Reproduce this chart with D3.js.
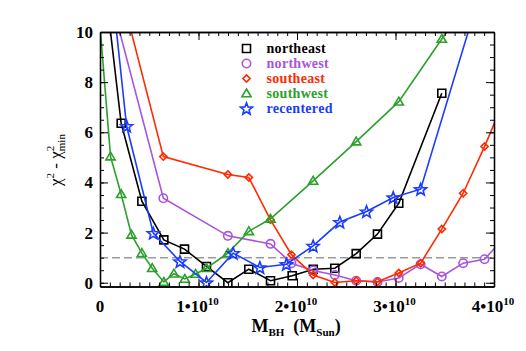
<!DOCTYPE html>
<html><head><meta charset="utf-8">
<script src="https://cdn.jsdelivr.net/npm/d3@7"></script>
<style>body{margin:0;background:#fff}svg{display:block}</style>
</head><body>
<script>
// Data (mass in units of 1e10 M_sun, delta chi^2)
const neMass = [0, 0.215, 0.425, 0.648, 0.858, 1.081, 1.298, 1.511, 1.731, 1.951, 2.165, 2.384, 2.601, 2.817, 3.033, 3.470];
const neChi  = [13.6, 6.36, 3.25, 1.71, 1.34, 0.65, 0.0, 0.54, 0.08, 0.28, 0.54, 0.58, 1.16, 1.94, 3.17, 7.56];
const nwMass = [0, 0.643, 1.298, 1.731, 1.944, 2.164, 2.384, 2.601, 2.817, 3.033, 3.255, 3.470, 3.687, 3.904, 4.12];
const nwChi  = [13.0, 3.37, 1.87, 1.55, 0.78, 0.49, 0.31, 0.08, 0.03, 0.19, 0.74, 0.25, 0.78, 0.94, 1.86];
const seMass = [0, 0.643, 1.298, 1.511, 1.731, 1.944, 2.164, 2.384, 2.601, 2.817, 3.033, 3.255, 3.470, 3.687, 3.904, 4.12];
const seChi  = [14.85, 5.03, 4.32, 4.20, 2.51, 1.12, 0.31, 0.01, 0.08, 0.04, 0.39, 0.78, 2.14, 3.57, 5.43, 7.45];
const swMass = [0, 0.107, 0.215, 0.320, 0.425, 0.530, 0.648, 0.750, 0.861, 0.970, 1.081, 1.298, 1.511, 1.731, 2.164, 2.601, 3.033, 3.470, 3.687];
const swChi  = [10.25, 5.03, 3.53, 1.91, 1.18, 0.58, 0.03, 0.36, 0.15, 0.35, 0.58, 1.18, 2.05, 2.55, 4.06, 5.63, 7.22, 9.72, 10.96];
const rcMass = [0, 0.270, 0.541, 0.812, 1.081, 1.352, 1.623, 1.893, 2.164, 2.435, 2.706, 2.977, 3.255, 3.797];
const rcChi  = [16.2, 6.25, 1.98, 0.85, 0.01, 1.18, 0.61, 0.74, 1.47, 2.42, 2.84, 3.40, 3.73, 10.77];

const seriesNames = ["northeast", "northwest", "southeast", "southwest", "recentered"];
const seriesColors = ["#000000", "#a855dd", "#ff2a00", "#2ca02c", "#1a3cff"];
const seriesSymbols = ["square", "circle", "diamond", "triangle", "star"];
const xTickValues = [0, 1, 2, 3, 4];
const yTickValues = [0, 2, 4, 6, 8, 10];
const refLevel = 1;

const W = 526, H = 351;
const m = {l: 100, r: 494, t: 32, b: 286.5};
const x = d3.scaleLinear().domain([0, 4]).range([m.l, m.r]);
const y = d3.scaleLinear().domain([-0.15, 10]).range([m.b, m.t]);

const svg = d3.select("body").append("svg").attr("width", W).attr("height", H);
svg.append("defs").append("clipPath").attr("id", "clip")
  .append("rect").attr("x", m.l).attr("y", m.t).attr("width", m.r - m.l).attr("height", m.b - m.t);

const serif = "Liberation Serif, Times New Roman, serif";

// dashed reference line
svg.append("line").attr("x1", x(0)).attr("x2", x(4)).attr("y1", y(refLevel)).attr("y2", y(refLevel))
  .attr("stroke", "#9a9a9a").attr("stroke-width", 1.5).attr("stroke-dasharray", "8,4");

const series = [
  {mass: neMass, chi: neChi}, {mass: nwMass, chi: nwChi}, {mass: seMass, chi: seChi},
  {mass: swMass, chi: swChi}, {mass: rcMass, chi: rcChi}
];

function symbolPath(type) {
  if (type === "square") return "M-4,-4H4V4H-4Z";
  if (type === "circle") { const p = d3.path(); p.arc(0, 0, 4.2, 0, 2 * Math.PI); p.closePath(); return p.toString(); }
  if (type === "diamond") return "M0,-3.6L3.6,0L0,3.6L-3.6,0Z";
  if (type === "triangle") return "M0,-4.5L4.6,3.3L-4.6,3.3Z";
  // star
  const pts = [];
  for (let k = 0; k < 10; k++) {
    const r = k % 2 === 0 ? 6.3 : 2.7;
    const a = -Math.PI / 2 + k * Math.PI / 5;
    pts.push([r * Math.cos(a), r * Math.sin(a) + 0.6]);
  }
  return "M" + pts.map(p => p[0].toFixed(2) + "," + p[1].toFixed(2)).join("L") + "Z";
}

const plotG = svg.append("g").attr("clip-path", "url(#clip)");
const line = d3.line().x(d => x(d[0])).y(d => y(d[1]));
series.forEach((s, i) => {
  const pts = s.mass.map((mm, j) => [mm, s.chi[j]]);
  plotG.append("path").attr("d", line(pts)).attr("fill", "none")
    .attr("stroke", seriesColors[i]).attr("stroke-width", 1.6);
  plotG.selectAll(null).data(pts).enter().append("path")
    .attr("d", symbolPath(seriesSymbols[i]))
    .attr("transform", d => `translate(${x(d[0])},${y(d[1])})`)
    .attr("fill", "none").attr("stroke", seriesColors[i]).attr("stroke-width", 1.6)
    .attr("stroke-linejoin", "miter");
});

// axes: frame + inward ticks on all four sides
const xMinor = d3.range(0, 4.0001, 0.1);
const yMinor = d3.range(0, 10.0001, 0.5);
function addAxis(axisFn, scale, values, size, transform) {
  svg.append("g").attr("transform", transform)
    .call(axisFn(scale).tickValues(values).tickSize(size).tickFormat("").tickSizeOuter(0))
    .call(g => g.select(".domain").attr("stroke", "#000").attr("stroke-width", 1.3))
    .call(g => g.selectAll(".tick line").attr("stroke", "#000").attr("stroke-width", 1));
}
addAxis(d3.axisBottom, x, xMinor, -4, `translate(0,${m.b})`);
addAxis(d3.axisBottom, x, xTickValues, -8, `translate(0,${m.b})`);
addAxis(d3.axisTop, x, xMinor, -4, `translate(0,${m.t})`);
addAxis(d3.axisTop, x, xTickValues, -8, `translate(0,${m.t})`);
addAxis(d3.axisLeft, y, yMinor, -4, `translate(${m.l},0)`);
addAxis(d3.axisLeft, y, yTickValues, -8, `translate(${m.l},0)`);
addAxis(d3.axisRight, y, yMinor, -4, `translate(${m.r},0)`);
addAxis(d3.axisRight, y, yTickValues, -8, `translate(${m.r},0)`);

// x tick labels
xTickValues.forEach(v => {
  const t = svg.append("text").attr("y", 312).attr("font-family", serif)
    .attr("font-weight", "bold").attr("font-size", 17).attr("text-anchor", "middle");
  if (v === 0) { t.attr("x", x(v)).text("0"); return; }
  t.attr("x", x(v) - 1);
  t.append("tspan").text(v + "\u202210");
  t.append("tspan").attr("font-size", 11).attr("dy", -7).text("10");
});
// y tick labels
yTickValues.forEach(v => {
  svg.append("text").attr("x", 93).attr("y", y(v) + 6).attr("font-family", serif)
    .attr("font-weight", "bold").attr("font-size", 17).attr("text-anchor", "end").text(v);
});

// x title
const xt = svg.append("text").attr("x", 296).attr("y", 332).attr("text-anchor", "middle")
  .attr("font-family", serif).attr("font-weight", "bold").attr("font-size", 18);
xt.append("tspan").text("M");
xt.append("tspan").attr("font-size", 11).attr("dy", 4).text("BH");
xt.append("tspan").attr("dy", -4).text("\u00a0\u00a0(M");
xt.append("tspan").attr("font-size", 11).attr("dy", 4).text("Sun");
xt.append("tspan").attr("dy", -4).text(")");

// y title
const yt = svg.append("text").attr("transform", "translate(61,160) rotate(-90)")
  .attr("text-anchor", "middle").attr("font-family", serif).attr("font-size", 17);
yt.append("tspan").text("\u03c7");
yt.append("tspan").attr("font-size", 11).attr("dy", -7).text("2");
yt.append("tspan").attr("dy", 7).text(" - \u03c7");
yt.append("tspan").attr("font-size", 11).attr("dy", -7).text("2");
yt.append("tspan").attr("font-size", 11).attr("dx", -5.5).attr("dy", 11).text("min");

// legend
seriesNames.forEach((name, i) => {
  const ly = 48.5 + i * 15;
  svg.append("path").attr("d", symbolPath(seriesSymbols[i]))
    .attr("transform", `translate(246.5,${ly})`)
    .attr("fill", "none").attr("stroke", seriesColors[i]).attr("stroke-width", 1.6);
  svg.append("text").attr("x", 266.5).attr("y", ly + 4.5).attr("font-family", serif)
    .attr("font-weight", "bold").attr("font-size", 14).attr("letter-spacing", 0.3)
    .attr("fill", seriesColors[i]).text(name);
});
</script>
</body></html>
